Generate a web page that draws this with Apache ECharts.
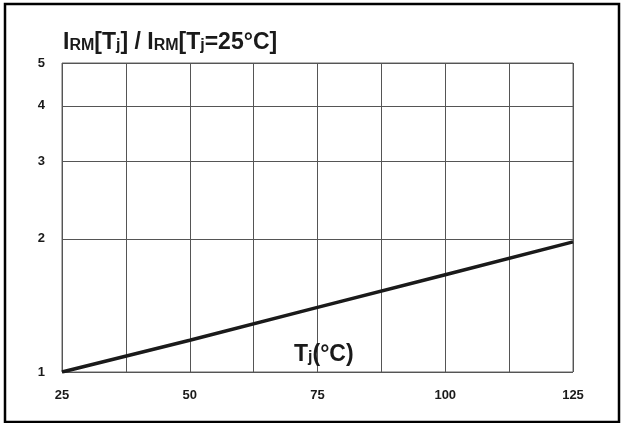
<!DOCTYPE html>
<html>
<head>
<meta charset="utf-8">
<script src="https://cdn.jsdelivr.net/npm/echarts@6/dist/echarts.min.js"></script>
<style>
html,body{margin:0;padding:0;background:#fff;}
#c{width:622px;height:423px;}
</style>
</head>
<body>
<div id="c"></div>
<script>
// Data
const tjValues = [25, 50, 75, 100, 125];
const irmRatio = [1.0, 1.18, 1.40, 1.66, 1.97];
const xTickLabels = [25, 50, 75, 100, 125];
const yTickValues = [1, 2, 3, 4, 5];

const chart = echarts.init(document.getElementById('c'));
const font = 'Liberation Sans, Arial, Helvetica, sans-serif';
const seriesData = tjValues.map((t, i) => [t, irmRatio[i]]);
const richStyle = {
  b: {fontSize: 23, fontWeight: 'bold', fontFamily: font, color: '#1a1a1a', verticalAlign: 'bottom', lineHeight: 26},
  s: {fontSize: 16, fontWeight: 'bold', fontFamily: font, color: '#1a1a1a', verticalAlign: 'bottom', lineHeight: 21}
};

chart.setOption({
  animation: false,
  backgroundColor: '#fff',
  title: [{
    left: 58, top: 23,
    text: '{b|I}{s|RM}{b|[T}{s|j}{b|] / I}{s|RM}{b|[T}{s|j}{b|=25°C]}',
    textStyle: {rich: richStyle}
  }, {
    left: 289, top: 335,
    text: '{b|T}{s|j}{b|(°C)}',
    textStyle: {rich: richStyle}
  }],
  graphic: [{
    type: 'rect',
    shape: {x: 5, y: 4, width: 614, height: 418},
    style: {fill: 'none', stroke: '#000', lineWidth: 2.5},
    silent: true
  }],
  grid: {left: 62, right: 49, top: 63, bottom: 51, show: true, borderColor: '#666', borderWidth: 1},
  xAxis: {
    type: 'value', min: 25, max: 125, interval: 12.5,
    axisLine: {show: false},
    axisTick: {show: false},
    splitLine: {show: true, lineStyle: {color: '#555', width: 1}},
    axisLabel: {
      margin: 17, fontSize: 13, fontWeight: 'bold', fontFamily: font, color: '#1a1a1a',
      formatter: v => xTickLabels.indexOf(v) >= 0 ? String(v) : ''
    }
  },
  yAxis: {
    type: 'log', logBase: 10, min: 1, max: 5,
    axisLine: {show: false},
    axisTick: {show: false, customValues: yTickValues},
    splitLine: {show: true, lineStyle: {color: '#555', width: 1}},
    axisLabel: {
      customValues: yTickValues,
      margin: 17, fontSize: 13, fontWeight: 'bold', fontFamily: font, color: '#1a1a1a',
      padding: [4, 0, 0, 0],
      formatter: v => String(Math.round(v))
    }
  },
  series: [{
    type: 'line', data: seriesData, showSymbol: false,
    lineStyle: {color: '#1a1a1a', width: 3.5}
  }]
});
</script>
</body>
</html>
